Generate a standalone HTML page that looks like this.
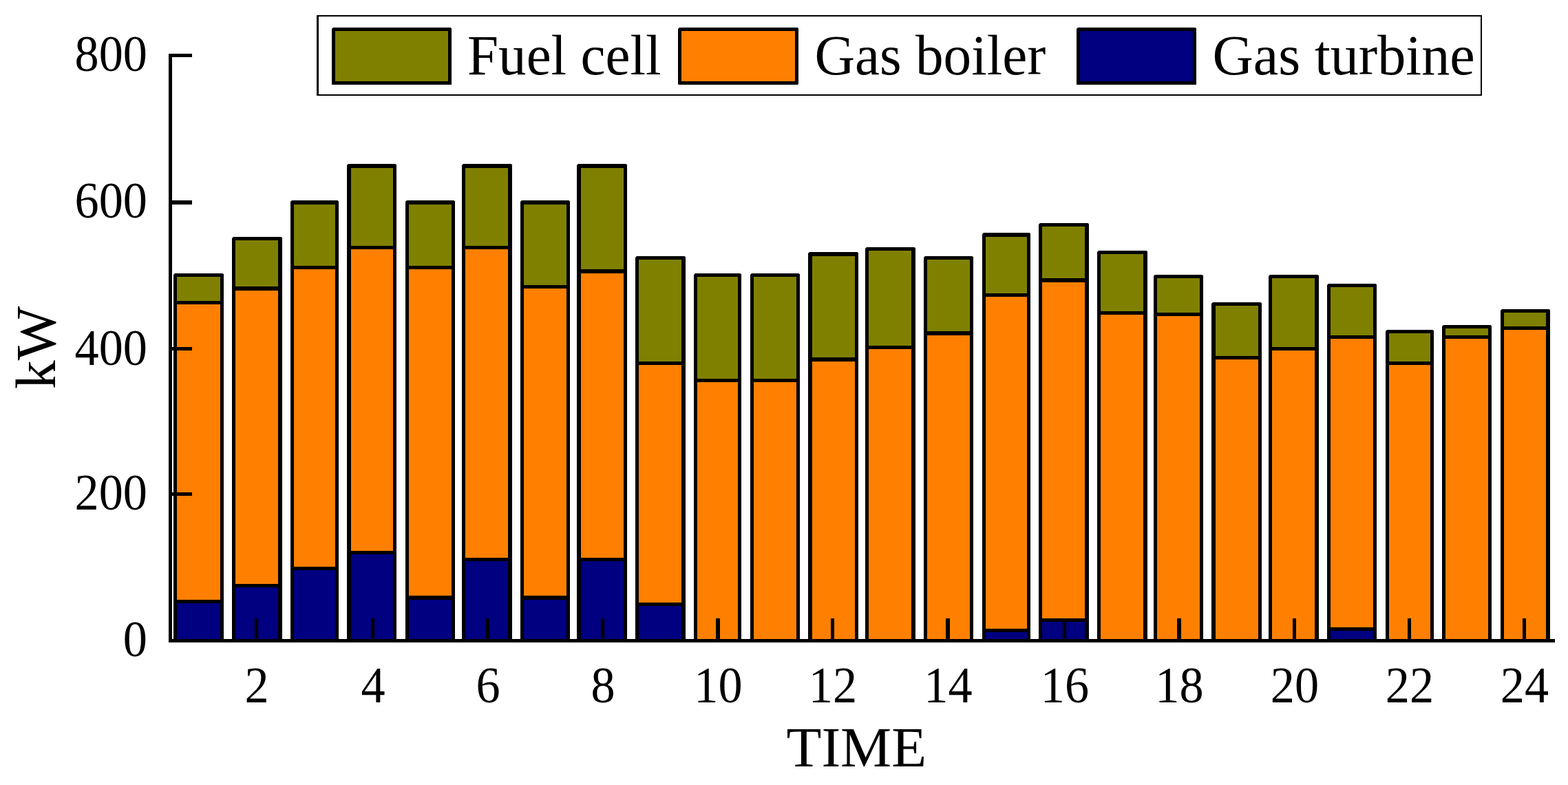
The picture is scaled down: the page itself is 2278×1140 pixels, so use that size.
<!DOCTYPE html>
<html lang="en">
<head>
<meta charset="utf-8">
<title>Stacked bar chart: Fuel cell, Gas boiler, Gas turbine (kW vs TIME)</title>
<style>
html,body{margin:0;padding:0;background:#fff;}
body{width:2278px;height:1140px;overflow:hidden;}
svg{display:block;}
svg text{font-family:"Liberation Serif","Times New Roman",Times,serif;fill:#000;}
</style>
</head>
<body>
<svg width="2278" height="1140" viewBox="0 0 2278 1140">
<rect width="2278" height="1140" fill="#fff"/>
<g shape-rendering="crispEdges">
<path d="M252 933V399L254 397H323.5L325 398.5V933Z" fill="#000" shape-rendering="geometricPrecision"/>
<rect x="257" y="402" width="63" height="35" fill="#808000"/>
<rect x="257" y="442" width="63" height="429" fill="#ff8000"/>
<rect x="257" y="876" width="63" height="52" fill="#000080"/>
<path d="M337 933V346L339 344H408.5L410 345.5V933Z" fill="#000" shape-rendering="geometricPrecision"/>
<rect x="342" y="349" width="62" height="67" fill="#808000"/>
<rect x="342" y="422" width="62" height="426" fill="#ff8000"/>
<rect x="342" y="853" width="62" height="75" fill="#000080"/>
<path d="M422 933V293L424 291H490.5L492 292.5V933Z" fill="#000" shape-rendering="geometricPrecision"/>
<rect x="427" y="297" width="60" height="89" fill="#808000"/>
<rect x="427" y="391" width="60" height="432" fill="#ff8000"/>
<rect x="427" y="828" width="60" height="100" fill="#000080"/>
<path d="M504 933V240L506 238H574.5L576 239.5V933Z" fill="#000" shape-rendering="geometricPrecision"/>
<rect x="510" y="244" width="61" height="113" fill="#808000"/>
<rect x="510" y="362" width="61" height="438" fill="#ff8000"/>
<rect x="510" y="805" width="61" height="123" fill="#000080"/>
<path d="M589 933V293L591 291H659.5L661 292.5V933Z" fill="#000" shape-rendering="geometricPrecision"/>
<rect x="594" y="297" width="62" height="89" fill="#808000"/>
<rect x="594" y="391" width="62" height="474" fill="#ff8000"/>
<rect x="594" y="871" width="62" height="57" fill="#000080"/>
<path d="M671 933V240L673 238H742.5L744 239.5V933Z" fill="#000" shape-rendering="geometricPrecision"/>
<rect x="676" y="244" width="62" height="113" fill="#808000"/>
<rect x="676" y="362" width="62" height="448" fill="#ff8000"/>
<rect x="676" y="815" width="62" height="113" fill="#000080"/>
<path d="M756 933V293L758 291H826.5L828 292.5V933Z" fill="#000" shape-rendering="geometricPrecision"/>
<rect x="761" y="297" width="62" height="117" fill="#808000"/>
<rect x="761" y="419" width="62" height="446" fill="#ff8000"/>
<rect x="761" y="871" width="62" height="57" fill="#000080"/>
<path d="M838 933V240L840 238H909.5L911 239.5V933Z" fill="#000" shape-rendering="geometricPrecision"/>
<rect x="844" y="244" width="62" height="147" fill="#808000"/>
<rect x="844" y="397" width="62" height="413" fill="#ff8000"/>
<rect x="844" y="815" width="62" height="113" fill="#000080"/>
<path d="M923 933V374L925 372H994.5L996 373.5V933Z" fill="#000" shape-rendering="geometricPrecision"/>
<rect x="928" y="377" width="62" height="148" fill="#808000"/>
<rect x="928" y="530" width="62" height="345" fill="#ff8000"/>
<rect x="928" y="880" width="62" height="48" fill="#000080"/>
<path d="M1008 933V399L1010 397H1075.5L1077 398.5V933Z" fill="#000" shape-rendering="geometricPrecision"/>
<rect x="1013" y="402" width="59" height="148" fill="#808000"/>
<rect x="1013" y="555" width="59" height="373" fill="#ff8000"/>
<path d="M1090 933V399L1092 397H1160.5L1162 398.5V933Z" fill="#000" shape-rendering="geometricPrecision"/>
<rect x="1095" y="402" width="62" height="148" fill="#808000"/>
<rect x="1095" y="555" width="62" height="373" fill="#ff8000"/>
<path d="M1174 933V368L1176 366H1245.5L1247 367.5V933Z" fill="#000" shape-rendering="geometricPrecision"/>
<rect x="1180" y="372" width="62" height="147" fill="#808000"/>
<rect x="1180" y="525" width="62" height="403" fill="#ff8000"/>
<path d="M1257 933V361L1259 359H1328.5L1330 360.5V933Z" fill="#000" shape-rendering="geometricPrecision"/>
<rect x="1262" y="364" width="62" height="138" fill="#808000"/>
<rect x="1262" y="507" width="62" height="421" fill="#ff8000"/>
<path d="M1342 933V374L1344 372H1412.5L1414 373.5V933Z" fill="#000" shape-rendering="geometricPrecision"/>
<rect x="1347" y="377" width="62" height="104" fill="#808000"/>
<rect x="1347" y="487" width="62" height="441" fill="#ff8000"/>
<path d="M1427 933V340L1429 338H1495.5L1497 339.5V933Z" fill="#000" shape-rendering="geometricPrecision"/>
<rect x="1432" y="344" width="60" height="82" fill="#808000"/>
<rect x="1432" y="431" width="60" height="482" fill="#ff8000"/>
<rect x="1432" y="918" width="60" height="10" fill="#000080"/>
<path d="M1509 933V326L1511 324H1580.5L1582 325.5V933Z" fill="#000" shape-rendering="geometricPrecision"/>
<rect x="1514" y="329" width="62" height="75" fill="#808000"/>
<rect x="1514" y="410" width="62" height="488" fill="#ff8000"/>
<rect x="1514" y="903" width="62" height="25" fill="#000080"/>
<path d="M1594 933V366L1596 364H1665.5L1667 365.5V933Z" fill="#000" shape-rendering="geometricPrecision"/>
<rect x="1599" y="369" width="62" height="83" fill="#808000"/>
<rect x="1599" y="457" width="62" height="471" fill="#ff8000"/>
<path d="M1676 933V401L1678 399H1746.5L1748 400.5V933Z" fill="#000" shape-rendering="geometricPrecision"/>
<rect x="1681" y="404" width="62" height="50" fill="#808000"/>
<rect x="1681" y="459" width="62" height="469" fill="#ff8000"/>
<path d="M1760 933V441L1762 439H1831.5L1833 440.5V933Z" fill="#000" shape-rendering="geometricPrecision"/>
<rect x="1766" y="444" width="62" height="73" fill="#808000"/>
<rect x="1766" y="522" width="62" height="406" fill="#ff8000"/>
<path d="M1843 933V401L1845 399H1914.5L1916 400.5V933Z" fill="#000" shape-rendering="geometricPrecision"/>
<rect x="1848" y="404" width="62" height="100" fill="#808000"/>
<rect x="1848" y="509" width="62" height="419" fill="#ff8000"/>
<path d="M1928 933V414L1930 412H1998.5L2000 413.5V933Z" fill="#000" shape-rendering="geometricPrecision"/>
<rect x="1933" y="417" width="62" height="70" fill="#808000"/>
<rect x="1933" y="492" width="62" height="419" fill="#ff8000"/>
<rect x="1933" y="916" width="62" height="12" fill="#000080"/>
<path d="M2013 933V481L2015 479H2081.5L2083 480.5V933Z" fill="#000" shape-rendering="geometricPrecision"/>
<rect x="2018" y="484" width="60" height="41" fill="#808000"/>
<rect x="2018" y="530" width="60" height="398" fill="#ff8000"/>
<path d="M2095 933V474L2097 472H2165.5L2167 473.5V933Z" fill="#000" shape-rendering="geometricPrecision"/>
<rect x="2100" y="477" width="62" height="10" fill="#808000"/>
<rect x="2100" y="492" width="62" height="436" fill="#ff8000"/>
<path d="M2180 933V451L2182 449H2250.5L2252 450.5V933Z" fill="#000" shape-rendering="geometricPrecision"/>
<rect x="2185" y="454" width="61" height="20" fill="#808000"/>
<rect x="2185" y="479" width="61" height="449" fill="#ff8000"/>
<rect x="245" y="78" width="5" height="855" fill="#000"/>
<rect x="245" y="928" width="2014" height="5" fill="#000"/>
<rect x="245" y="78" width="34" height="5" fill="#000"/>
<rect x="245" y="291" width="34" height="6" fill="#000"/>
<rect x="245" y="504" width="34" height="5" fill="#000"/>
<rect x="245" y="715" width="34" height="5" fill="#000"/>
<rect x="370" y="898" width="5" height="30" fill="#000"/>
<rect x="539" y="898" width="5" height="30" fill="#000"/>
<rect x="706" y="898" width="5" height="30" fill="#000"/>
<rect x="873" y="898" width="5" height="30" fill="#000"/>
<rect x="1040" y="898" width="6" height="30" fill="#000"/>
<rect x="1207" y="898" width="5" height="30" fill="#000"/>
<rect x="1374" y="898" width="6" height="30" fill="#000"/>
<rect x="1544" y="898" width="5" height="30" fill="#000"/>
<rect x="1710" y="898" width="6" height="30" fill="#000"/>
<rect x="1878" y="898" width="5" height="30" fill="#000"/>
<rect x="2045" y="898" width="5" height="30" fill="#000"/>
<rect x="2212" y="898" width="5" height="30" fill="#000"/>
<path d="M460 22H2153V139H460Z M463 24V137H2151V24Z" fill="#000" fill-rule="evenodd"/>
</g>
<path d="M482 123V42L484 40H654.5L656 41.5V123L656 123H482Z" fill="#000"/>
<rect x="487" y="45" width="164" height="73" fill="#808000" shape-rendering="crispEdges"/>
<path d="M985 122V42L987 40H1158.5L1160 41.5V122L1159 123H986Z" fill="#000"/>
<rect x="990" y="45" width="165" height="73" fill="#ff8000" shape-rendering="crispEdges"/>
<path d="M1564 123V42L1566 40H1736.5L1738 41.5V123L1738 123H1564Z" fill="#000"/>
<rect x="1569" y="45" width="164" height="73" fill="#000080" shape-rendering="crispEdges"/>
<g>
<text transform="translate(214 103.4) scale(0.95 1)" font-size="74" text-anchor="end">800</text>
<text transform="translate(214 315.5) scale(0.95 1)" font-size="74" text-anchor="end">600</text>
<text transform="translate(214 529.5) scale(0.95 1)" font-size="74" text-anchor="end">400</text>
<text transform="translate(214 739.5) scale(0.95 1)" font-size="74" text-anchor="end">200</text>
<text transform="translate(214 953.4) scale(0.95 1)" font-size="74" text-anchor="end">0</text>
<text transform="translate(373.0 1020.2) scale(0.95 1)" font-size="74" text-anchor="middle">2</text>
<text transform="translate(542.0 1020.2) scale(0.95 1)" font-size="74" text-anchor="middle">4</text>
<text transform="translate(709.0 1020.2) scale(0.95 1)" font-size="74" text-anchor="middle">6</text>
<text transform="translate(876.0 1020.2) scale(0.95 1)" font-size="74" text-anchor="middle">8</text>
<text transform="translate(1043.5 1020.2) scale(0.95 1)" font-size="74" text-anchor="middle">10</text>
<text transform="translate(1210.0 1020.2) scale(0.95 1)" font-size="74" text-anchor="middle">12</text>
<text transform="translate(1377.5 1020.2) scale(0.95 1)" font-size="74" text-anchor="middle">14</text>
<text transform="translate(1547.0 1020.2) scale(0.95 1)" font-size="74" text-anchor="middle">16</text>
<text transform="translate(1713.5 1020.2) scale(0.95 1)" font-size="74" text-anchor="middle">18</text>
<text transform="translate(1881.0 1020.2) scale(0.95 1)" font-size="74" text-anchor="middle">20</text>
<text transform="translate(2048.0 1020.2) scale(0.95 1)" font-size="74" text-anchor="middle">22</text>
<text transform="translate(2215.0 1020.2) scale(0.95 1)" font-size="74" text-anchor="middle">24</text>
<text transform="translate(679.0 107.5) scale(0.9736 1)" font-size="83.3" text-anchor="start">Fuel cell</text>
<text transform="translate(1183.4 107.5) scale(0.9748 1)" font-size="83.3" text-anchor="start">Gas boiler</text>
<text transform="translate(1761.5 107.5) scale(0.9868 1)" font-size="83.3" text-anchor="start">Gas turbine</text>
<text x="1142.5" y="1112.6" font-size="83.3" text-anchor="start">TIME</text>
<text transform="translate(80 565) rotate(-90)" font-size="83.3">kW</text>
</g>
</svg>
</body>
</html>
